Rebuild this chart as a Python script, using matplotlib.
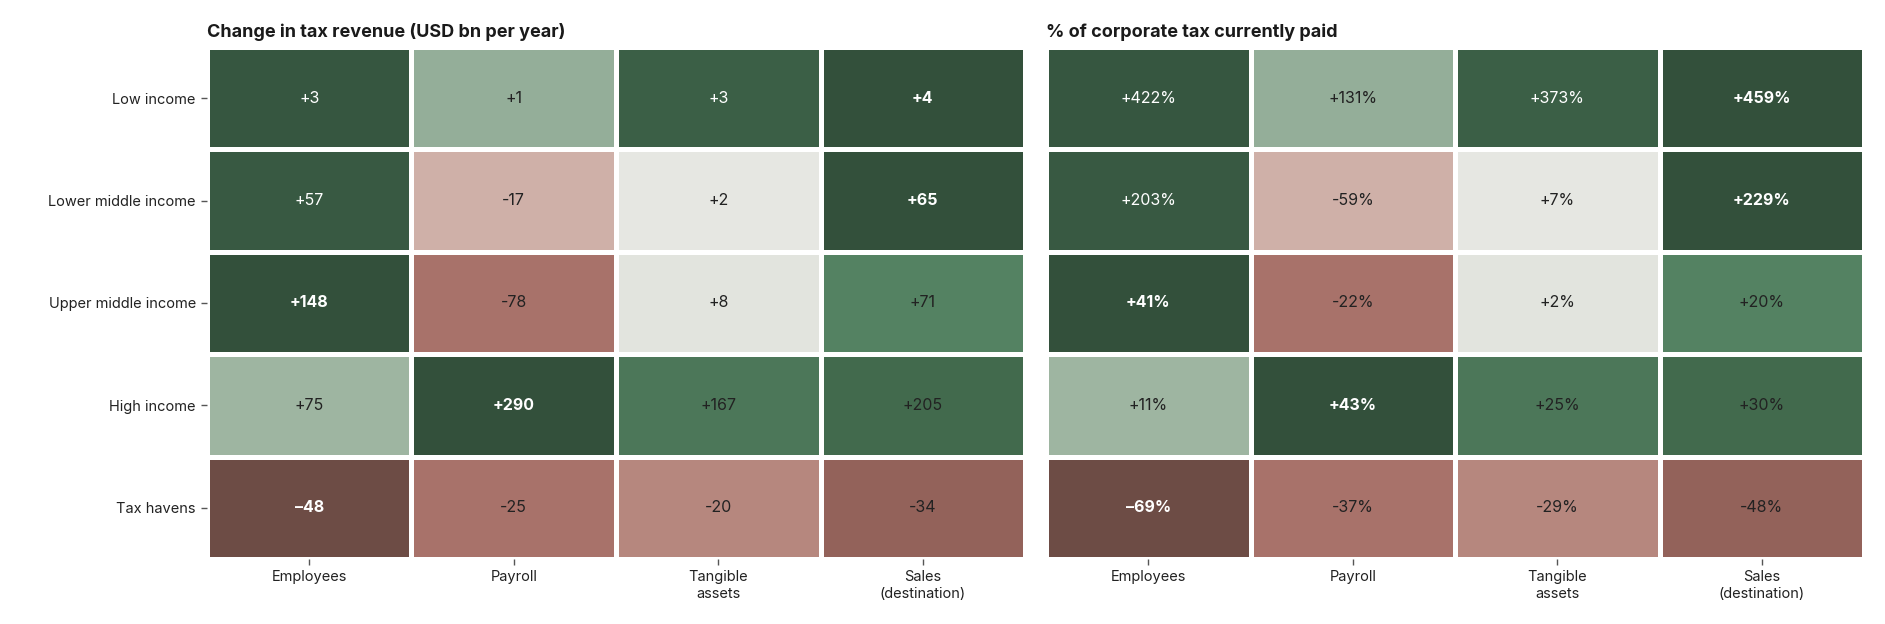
import numpy as np
import matplotlib
matplotlib.use("Agg")
import matplotlib.pyplot as plt
from matplotlib.colors import LinearSegmentedColormap, Normalize

plt.rcParams['font.family'] = ['Inter', 'DejaVu Sans']

rows = ["Low income", "Lower middle income", "Upper middle income", "High income", "Tax havens"]
cols = ["Employees", "Payroll", "Tangible\nassets", "Sales\n(destination)"]

revenue = np.array([
    [3, 1, 3, 4],
    [57, -17, 2, 65],
    [148, -78, 8, 71],
    [75, 290, 167, 205],
    [-48, -25, -20, -34],
])
pct = np.array([
    [422, 131, 373, 459],
    [203, -59, 7, 229],
    [41, -22, 2, 20],
    [11, 43, 25, 30],
    [-69, -37, -29, -48],
])

titles = ["Change in tax revenue (USD bn per year)", "% of corporate tax currently paid"]

# row-normalised intensity (shared by both panels)
intensity = pct / np.abs(pct).max(axis=1, keepdims=True)

stops = [
    (0.00, "#6d4c45"),
    (0.15, "#93625a"),
    (0.23, "#a8716a"),
    (0.29, "#b6877e"),
    (0.37, "#ceafa7"),
    (0.50, "#ebebe6"),
    (0.525, "#e2e4de"),
    (0.635, "#99b19d"),
    (0.745, "#548262"),
    (0.85, "#426a4d"),
    (0.92, "#3a5d45"),
    (1.00, "#33503b"),
]
cmap = LinearSegmentedColormap.from_list("taxdiv", stops)
norm = Normalize(-1, 1)

fig = plt.figure(figsize=(18.85, 6.24), dpi=100)
bottom, top = 0.1042, 0.9247
axes = [fig.add_axes([0.1098, bottom, 0.434, top - bottom]),
        fig.add_axes([0.5549, bottom, 0.434, top - bottom])]

for k, (ax, data, title) in enumerate(zip(axes, [revenue, pct], titles)):
    nr, nc = data.shape
    ax.pcolormesh(np.arange(nc + 1), np.arange(nr + 1), intensity, cmap=cmap, norm=norm,
                  edgecolors="white", linewidth=2.2)
    ax.set_xlim(0, nc)
    ax.set_ylim(nr, 0)
    rowmax = np.abs(data).argmax(axis=1)
    for i in range(nr):
        for j in range(nc):
            v = data[i, j]
            s = f"+{v}" if v > 0 else f"\u2013{abs(v)}" if rowmax[i] == j else f"-{abs(v)}"
            if k == 1:
                s += "%"
            bold = rowmax[i] == j
            col = "white" if abs(intensity[i, j]) > 0.75 else "#222222"
            ax.text(j + 0.5, i + 0.5, s, ha="center", va="center", fontsize=11.5,
                    color=col, fontweight="bold" if bold else "normal")
    ax.set_xticks(np.arange(nc) + 0.5)
    ax.set_xticklabels(cols, fontsize=10.5, color="#222222", linespacing=1.25)
    ax.set_yticks(np.arange(nr) + 0.5)
    if k == 0:
        ax.set_yticklabels(rows, fontsize=10.5, color="#222222")
        ax.tick_params(axis="y", length=4, width=1, color="#555555", pad=4)
    else:
        ax.set_yticklabels([])
        ax.tick_params(axis="y", length=0)
    ax.tick_params(axis="x", length=4, width=1, color="#555555", pad=4)
    for sp in ax.spines.values():
        sp.set_visible(False)
    ax.set_title(title, loc="left", fontsize=13, fontweight="bold", color="#1a1a1a", pad=7)

fig.savefig("out.png", dpi=100, facecolor="white")
